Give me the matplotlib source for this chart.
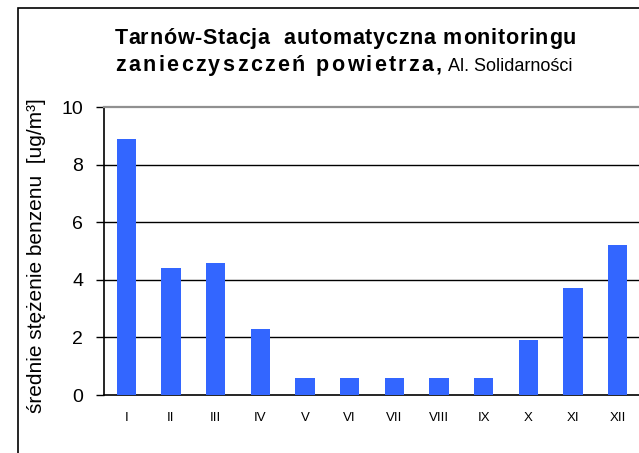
import matplotlib.pyplot as plt
from matplotlib.patches import Rectangle
from matplotlib.font_manager import FontProperties

plt.rcParams['font.family'] = ['Liberation Sans', 'DejaVu Sans']

# Monthly mean benzene, Tarnów, Al. Solidarności
months = ['I', 'II', 'III', 'IV', 'V', 'VI', 'VII', 'VIII', 'IX', 'X', 'XI', 'XII']
benzene = [8.9, 4.4, 4.6, 2.3, 0.6, 0.6, 0.6, 0.6, 0.6, 1.9, 3.7, 5.2]
y_ticks = [0, 2, 4, 6, 8, 10]

W, H = 639, 453
fig = plt.figure(figsize=(W / 100, H / 100), dpi=100)
r = fig.canvas.get_renderer()


def spaced_text(x0, x1, y, s, prop):
    # draw s between pixel x0 and x1 with even extra letter spacing
    def width(txt):
        return r.get_text_width_height_descent(txt, prop, ismath=False)[0]
    ref = width('l')
    natural = width(s)
    gap = (x1 - x0 - natural) / (len(s) - 1)
    for i, ch in enumerate(s):
        if ch == ' ':
            continue
        xi = x0 + (width(s[:i] + 'l') - ref if i else 0) + i * gap
        fig.text(xi / W, 1 - y / H, ch, fontproperties=prop, ha='left', va='baseline')


# outer chart frame (runs off the right and bottom edge)
fig.patches.append(Rectangle((18 / W, -0.1), 1.2, 1.1 - 8 / H, transform=fig.transFigure,
                             fill=False, edgecolor='black', linewidth=1.2))

ax = fig.add_axes([104 / W, 1 - 395 / H, 536 / W, 288 / H])
x = range(len(months))
ax.bar(x, benzene, width=0.43, color='#3366FF', zorder=3)

ax.set_xlim(-0.5, len(months) - 0.5)
ax.set_ylim(0, 10)
ax.set_yticks(y_ticks)
ax.set_yticklabels([str(t) for t in y_ticks], fontsize=14)
ax.set_xticks(list(x))
ax.set_xticklabels(months, fontsize=9.5)
ax.tick_params(axis='x', length=0, pad=12)
ax.tick_params(axis='y', length=6, width=1, pad=9)

for t in y_ticks[1:-1]:
    ax.axhline(t, color='black', linewidth=1, zorder=1)

ax.spines['top'].set_color('#909090')
ax.spines['top'].set_linewidth(1.6)
ax.spines['right'].set_visible(False)
ax.spines['left'].set_linewidth(1.2)
ax.spines['bottom'].set_linewidth(1.2)

ax.set_ylabel('średnie stężenie benzenu  [ug/m³]', fontsize=15)
ax.yaxis.set_label_coords(-58 / 536, 0.484)

# title: first line bold, second line bold + regular
bold = FontProperties(family='Liberation Sans', weight='bold', size=15.5)
spaced_text(115, 576, 44, 'Tarnów-Stacja  automatyczna monitoringu', bold)
spaced_text(115, 442, 71, 'zanieczyszczeń powietrza,', bold)
fig.text(448 / W, 1 - 71 / H, 'Al. Solidarności', fontsize=13,
         ha='left', va='baseline')

fig.savefig('out.png', dpi=100)
